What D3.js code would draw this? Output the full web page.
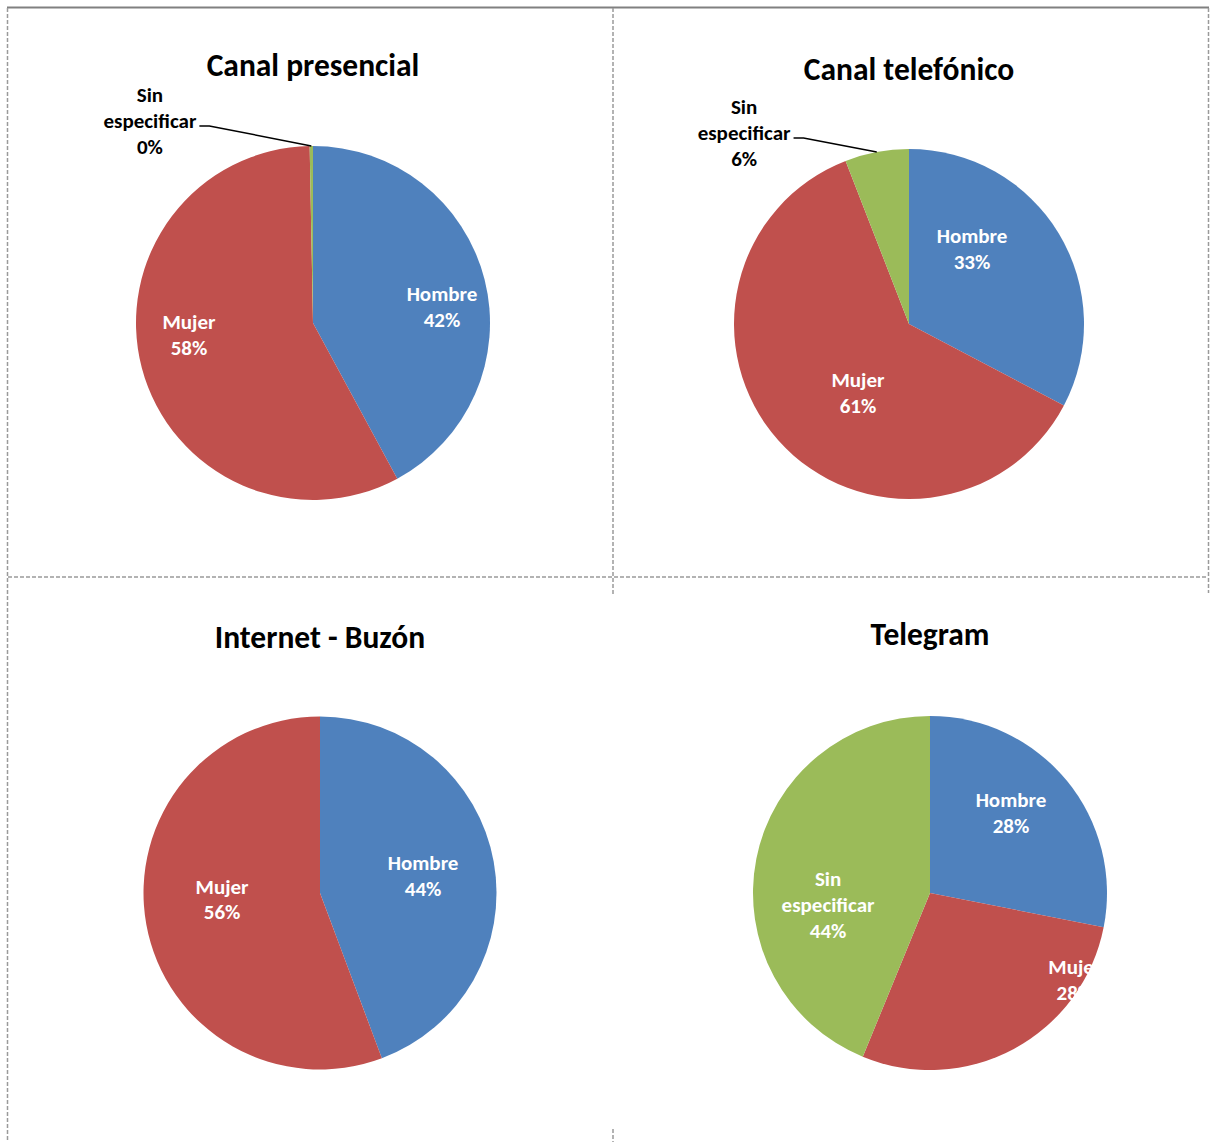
<!DOCTYPE html>
<html>
<head>
<meta charset="utf-8">
<script src="https://cdn.jsdelivr.net/npm/d3@7"></script>
<style>
  body { margin: 0; background: #fff; }
  text { font-family: Carlito, Calibri, Lato, sans-serif; font-weight: bold; }
</style>
</head>
<body>
<div id="pies_div"></div>
<script>
var pie_viz = (function (){

    // ---- data (percent of cases per channel) ----
    var categories = ["Hombre", "Mujer", "Sin especificar"];
    var titles = ["Canal presencial", "Canal telefónico", "Internet - Buzón", "Telegram"];
    var presencial  = [42.1, 57.6, 0.3];
    var telefonico  = [32.7, 61.4, 5.9];
    var buzon       = [44.3, 55.7, 0];
    var telegram    = [28.1, 28.1, 43.8];
    var series = [presencial, telefonico, buzon, telegram];

    var colors = ["#4F81BD", "#C0504D", "#9BBB59"];

    var width = 1211;
    var height = 1142;

    // layout of each panel: pie centre, radius, title baseline
    var panels = [
	{cx: 313, cy: 323, r: 177, ty: 76},
	{cx: 909, cy: 324, r: 175, ty: 80},
	{cx: 320, cy: 893, r: 176.5, ty: 648},
	{cx: 930, cy: 893, r: 177, ty: 645}
    ];

    // label placement (angle in degrees from 12 o'clock, fraction of radius),
    // roughly where the spreadsheet's "best fit" put them
    var label_pos = [
	[[82.5, 0.735], [264.5, 0.704], [321.1, 1.467]],
	[[40, 0.56],    [216.9, 0.486], [319.2, 1.442]],
	[[80.1, 0.593], [266.5, 0.556], null],
	[[45, 0.647],   [120.7, 0.952], [263.3, 0.58]]
    ];

    var title_size = 31.5;
    var label_size = 21;
    var line_h = 26;
    var cap_h = 15;

    var svg = d3.select("#pies_div")
	.append("svg")
	.attr("width", width)
	.attr("height", height);

    // page frame: solid top rule + dashed cell borders
    var grid = svg.append("g").attr("class", "grid");

    grid.append("line")
	.attr("x1", 7).attr("x2", 1209)
	.attr("y1", 7.5).attr("y2", 7.5)
	.attr("stroke", "#808080")
	.attr("stroke-width", 2);

    var dashed = [
	[7.5, 8, 7.5, 1142],
	[613, 8, 613, 595],
	[613, 1129, 613, 1142],
	[8, 577, 1208, 577],
	[1208.5, 8, 1208.5, 593]
    ];

    grid.selectAll(".dash")
	.data(dashed)
	.enter()
	.append("line")
	.attr("class", "dash")
	.attr("x1", d => d[0]).attr("y1", d => d[1])
	.attr("x2", d => d[2]).attr("y2", d => d[3])
	.attr("stroke", "#9a9a9a")
	.attr("stroke-width", 1.5)
	.attr("stroke-dasharray", "4,2");

    var pie = d3.pie()
	.sort(null)
	.value(d => d.value);

    function draw_pie(k) {
	var p = panels[k];
	var data = categories.map((c, i) => ({cat: c, value: series[k][i], i: i}));
	var total = d3.sum(series[k]);

	var g = svg.append("g")
	    .attr("transform", "translate(" + p.cx + "," + p.cy + ")");

	var arc = d3.arc()
	    .innerRadius(0)
	    .outerRadius(p.r);

	var arcs = pie(data);

	g.selectAll("path")
	    .data(arcs)
	    .enter()
	    .append("path")
	    .attr("d", arc)
	    .attr("fill", d => colors[d.data.i]);

	// title
	svg.append("text")
	    .attr("x", p.cx)
	    .attr("y", p.ty)
	    .attr("text-anchor", "middle")
	    .attr("font-size", title_size)
	    .attr("fill", "#000")
	    .text(titles[k]);

	// slice labels (a zero slice gets no label in this panel)
	arcs.forEach(function (d) {
	    var lp = label_pos[k][d.data.i];
	    if (!lp) return;

	    var pos = d3.pointRadial(lp[0] * Math.PI / 180, lp[1] * p.r);
	    var outside = lp[1] > 1;
	    var pct = Math.round(d.data.value / total * 100) + "%";
	    var lines = d.data.cat.split(" ").concat([pct]);

	    var t = g.append("text")
		.attr("text-anchor", "middle")
		.attr("font-size", label_size)
		.attr("fill", outside ? "#000" : "#fff");

	    lines.forEach(function (s, j) {
		t.append("tspan")
		    .attr("x", pos[0])
		    .attr("y", pos[1] + (j - (lines.length - 1) / 2) * line_h + cap_h / 2)
		    .text(s);
	    });

	    if (outside) {
		// leader line from the middle row to the slice edge
		var w = 0;
		t.selectAll("tspan").each(function () {
		    w = Math.max(w, this.getComputedTextLength());
		});
		var mid = (d.startAngle + d.endAngle) / 2;
		var edge = d3.pointRadial(mid, p.r);
		var x0 = pos[0] + w / 2 + 3;
		var y0 = pos[1] + 5;
		g.append("path")
		    .attr("d", "M" + x0 + "," + y0 + "H" + (x0 + 10) + "L" + edge[0] + "," + edge[1])
		    .attr("fill", "none")
		    .attr("stroke", "#000")
		    .attr("stroke-width", 1.5);
	    }
	});
    }

    for (var k = 0; k < series.length; k++) {
	draw_pie(k);
    }

})();
</script>
</body>
</html>
